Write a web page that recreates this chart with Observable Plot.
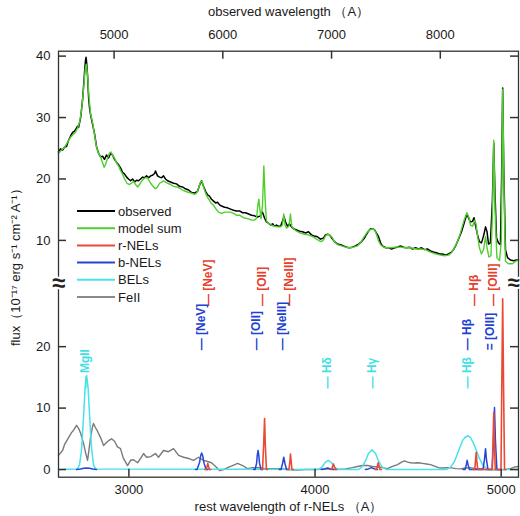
<!DOCTYPE html>
<html><head><meta charset="utf-8">
<script src="https://cdn.jsdelivr.net/npm/d3@7"></script>
<script src="https://cdn.jsdelivr.net/npm/@observablehq/plot@0.6"></script>
<style>
html,body{margin:0;padding:0;background:#fff;}
</style></head><body><div id="chart"></div>
<script>
// ---------- data (rest wavelength in Å, flux in 1e-17 erg/s/cm2/Å) ----------
const obsTicks = [5000, 6000, 7000, 8000];          // observed-frame tick labels
const restTicks = [3000, 4000, 5000];               // rest-frame tick labels
const lowerTicks = [0, 10, 20];                     // lower panel flux ticks
const upperTicks = [10, 20, 30, 40];                // upper panel flux ticks

// observed spectrum (upper panel)
const obsWave = [2622,2633,2644,2655,2665,2676,2687,2698,2708,2719,2724,2730,2741,2751,2757,2762,2767,2770,2773,2778,2784,2789,2794,2805,2816,2826,2837,2848,2859,2869,2880,2891,2902,2912,2923,2934,2945,2955,2966,2977,2988,2998,3009,3020,3031,3041,3052,3063,3074,3084,3095,3106,3117,3127,3138,3143,3154,3165,3176,3186,3197,3208,3224,3240,3256,3272,3288,3304,3321,3337,3353,3369,3380,3390,3401,3412,3423,3433,3444,3455,3466,3476,3487,3498,3514,3530,3546,3562,3578,3594,3611,3627,3643,3659,3675,3691,3707,3718,3729,3739,3750,3761,3772,3782,3793,3804,3815,3825,3833,3842,3852,3863,3874,3884,3901,3917,3933,3949,3965,3981,3997,4013,4029,4046,4056,4067,4078,4089,4105,4121,4137,4153,4169,4185,4201,4217,4234,4250,4266,4277,4287,4298,4309,4320,4330,4341,4352,4362,4379,4395,4411,4427,4443,4459,4475,4491,4507,4524,4540,4556,4572,4588,4604,4620,4636,4652,4669,4685,4701,4717,4733,4744,4755,4765,4776,4787,4797,4808,4816,4824,4835,4846,4854,4862,4873,4883,4894,4905,4916,4924,4932,4942,4953,4960,4967,4975,4985,4996,5002,5008,5014,5023,5034,5050,5066,5082,5093];
const obsFlux = [24.4,24.9,24.7,25.2,25.3,26.3,27.0,27.6,27.8,28.3,28.6,28.4,30.0,32.8,35.2,37.4,39.3,39.8,39.0,36.9,33.1,31.5,30.5,28.9,27.3,25.3,24.2,23.6,23.7,23.2,23.9,23.4,24.2,23.9,23.2,22.7,22.3,21.8,21.1,20.8,20.3,20.0,19.7,20.0,19.5,19.8,19.7,20.0,20.3,20.2,20.5,20.2,20.5,20.6,20.9,21.3,20.5,20.3,20.2,20.5,20.0,19.7,19.5,19.3,19.2,18.8,18.7,18.4,18.2,17.8,17.7,18.0,19.0,19.7,18.8,18.0,17.4,17.2,16.7,16.4,16.1,16.2,15.8,15.6,15.4,15.3,15.1,14.9,14.8,14.8,14.5,14.5,14.3,14.1,14.0,13.8,14.0,14.6,13.6,13.0,12.8,12.5,12.7,12.3,12.5,12.3,12.3,13.1,13.9,13.0,12.3,12.7,12.2,11.9,11.7,11.5,11.4,11.2,11.4,10.9,10.7,10.6,10.2,10.4,10.9,11.0,10.9,10.4,9.8,9.4,9.3,9.1,8.9,8.8,8.9,9.1,9.4,9.8,10.4,11.0,11.5,11.9,11.9,11.7,11.2,10.6,9.6,9.1,8.8,8.8,8.6,8.8,8.9,9.1,8.9,8.8,8.9,8.6,8.8,8.6,8.8,8.5,8.6,8.3,8.1,8.0,7.8,7.8,7.6,7.8,8.1,8.5,9.1,9.8,10.6,11.4,12.4,13.5,14.3,13.7,13.0,13.1,13.7,12.4,10.9,9.8,9.6,10.7,12.2,11.4,9.4,9.6,16.6,25.8,17.4,10.4,9.6,9.3,19.8,34.8,21.4,8.5,7.2,6.8,6.7,6.8,6.8];

// model sum (upper panel)
const modelWave = [2622,2639,2655,2671,2687,2703,2714,2724,2735,2746,2757,2765,2771,2778,2786,2794,2805,2816,2826,2837,2848,2859,2867,2875,2886,2896,2904,2912,2923,2934,2945,2955,2966,2977,2990,3004,3014,3025,3036,3047,3057,3068,3079,3090,3100,3111,3122,3133,3143,3154,3165,3176,3186,3197,3208,3224,3240,3256,3272,3288,3304,3321,3337,3353,3364,3374,3385,3393,3401,3412,3423,3433,3444,3455,3466,3482,3498,3514,3530,3546,3562,3578,3594,3611,3627,3643,3659,3675,3686,3693,3698,3703,3710,3718,3725,3732,3739,3750,3766,3782,3799,3815,3825,3832,3839,3847,3860,3868,3875,3884,3901,3922,3944,3965,3987,4008,4024,4035,4046,4056,4067,4078,4089,4105,4121,4142,4164,4185,4207,4228,4244,4260,4277,4293,4309,4320,4330,4341,4352,4368,4389,4411,4432,4459,4486,4513,4540,4567,4593,4620,4647,4674,4695,4717,4733,4749,4765,4781,4792,4803,4816,4827,4835,4846,4857,4865,4873,4883,4894,4905,4916,4924,4934,4945,4953,4960,4967,4977,4991,5001,5008,5016,5023,5039,5061,5077,5093];
const modelFlux = [24.2,24.7,25.2,26.0,26.8,27.3,27.6,28.3,29.2,31.2,34.8,37.7,38.7,36.9,33.3,30.7,29.2,27.1,25.2,24.2,23.6,22.6,21.9,22.4,23.4,24.2,24.4,23.9,23.4,22.6,22.1,21.4,20.8,20.0,19.3,19.1,19.3,19.6,19.1,18.7,19.1,19.6,20.0,20.2,20.2,19.6,19.1,18.7,18.4,18.7,19.3,19.5,19.7,19.5,19.3,19.1,18.8,18.7,18.5,18.2,18.0,17.8,17.7,17.5,17.7,18.5,19.5,19.7,18.7,17.7,17.0,16.5,16.0,15.7,15.2,14.6,14.4,14.6,14.6,14.6,14.4,14.1,14.1,13.8,13.6,13.5,13.3,13.3,13.6,15.8,16.7,15.3,13.5,15.8,22.1,16.6,13.2,12.8,12.5,12.3,12.2,12.2,12.5,14.3,12.5,12.0,12.3,14.3,12.3,11.9,11.5,11.2,11.0,10.9,10.6,10.2,9.9,9.8,10.1,10.7,11.0,10.9,10.6,9.8,9.3,9.1,8.9,8.8,8.9,9.1,9.6,10.4,11.2,11.7,11.9,11.7,11.0,9.9,9.3,8.9,8.8,8.8,8.9,8.9,8.8,8.8,8.6,8.6,8.5,8.1,7.8,7.6,7.5,7.6,8.0,8.8,9.8,11.2,12.4,13.5,14.5,13.7,12.5,12.3,13.3,12.7,10.7,8.8,7.8,8.5,10.6,8.8,7.3,7.5,14.1,26.3,15.0,7.2,6.7,10.1,34.6,16.6,6.6,6.2,6.2,6.6,6.8];

// FeII template (lower panel)
const feWave = [2622,2644,2655,2676,2692,2703,2719,2730,2741,2757,2767,2778,2784,2794,2805,2810,2821,2832,2848,2864,2880,2891,2907,2923,2939,2955,2971,2993,3009,3025,3047,3063,3079,3095,3117,3143,3159,3186,3213,3240,3267,3294,3321,3347,3374,3401,3423,3444,3466,3487,3509,3530,3557,3584,3611,3637,3664,3697,3734,3772,3815,3858,3901,3949,4003,4056,4110,4164,4201,4228,4255,4282,4309,4336,4362,4389,4416,4443,4465,4481,4497,4513,4534,4556,4577,4599,4620,4642,4663,4685,4706,4728,4755,4781,4808,4835,4862,4889,4916,4942,4969,4996,5023,5050,5071,5093];
const feFlux = [2.3,3.1,4.1,5.2,6.0,6.4,7.2,6.7,5.9,4.2,2.8,1.5,2.8,5.2,7.0,7.5,6.8,6.2,5.2,3.9,4.4,4.7,5.0,4.6,3.7,3.4,1.8,0.65,1.5,1.6,1.1,1.8,2.6,2.0,2.1,2.6,2.0,3.1,2.9,3.4,2.3,2.0,1.8,1.5,2.0,1.5,1.3,1.1,0.5,-0.15,0,0.3,0.65,1.0,0.65,0.15,0.3,0.3,0.15,0.15,0.15,0,-0.1,0,0,0.1,0,0.1,0.3,0.5,0.65,0.65,0.5,0.4,0.3,0.15,0.5,0.8,1.2,1.4,1.2,1.1,1.05,1.1,1.0,0.9,0.8,0.55,0.3,0.25,0.3,0.3,0.15,0.1,0.25,0.3,0.15,0.15,0,0,-0.05,-0.05,0,0.15,0.4,0.5];

// broad emission lines (lower panel)
const belWave = [2622,2724,2735,2746,2757,2765,2773,2781,2789,2800,2810,2821,4019,4040,4056,4072,4089,4105,4126,4234,4255,4271,4287,4306,4325,4341,4357,4384,4706,4728,4749,4771,4792,4808,4822,4835,4851,4867,4883,4900,4916,4937,4953,5093];
const belFlux = [0,0.1,0.75,3.3,8.8,13.3,15.3,13.3,8.8,3.3,0.75,0.1,0,0.5,1.2,1.5,1.1,0.4,0,0,0.5,1.4,2.6,3.2,2.6,1.4,0.5,0,0,0.4,1.3,3.0,4.7,5.3,5.5,5.2,4.3,3.1,1.8,0.8,0.3,0.05,0,0];

// blueshifted narrow lines (null = gap between segments)
const bWave = [2719,2741,2757,2773,2789,2805,2826,null,3358,3366,3380,3386,3391,3397,3404,3415,3425,null,3670,3678,3686,3690,3694,3698,3702,3710,3718,null,3808,3817,3825,3832,3839,3847,3855,null,4035,4051,4067,4083,4099,null,4271,4287,4303,4320,4336,null,4795,4806,4813,4817,4822,4829,4902,4910,4916,4921,4929,4951,4959,4964,4969,4977,4990];
const bFlux = [0,0.1,0.2,0.25,0.2,0.1,0,null,0,0,1.2,2.3,2.7,2.2,1.0,0,0,null,0,0,1.0,2.4,3.1,2.3,1.0,0,0,null,0,0,0.9,2.0,0.9,0,0,null,0,0.1,0.25,0.1,0,null,0,0.1,0.3,0.1,0,null,0,0,0.8,1.5,0.8,0,0,1.6,3.4,1.6,0,0,4.8,10.1,4.8,0,0];

// rest-frame narrow lines
const rWave = [3408,3415,3420,3424,3428,3433,3440,null,3712,3718,3724,3729,3733,3739,3745,null,3852,3860,3865,3868,3872,3876,3884,null,4083,4089,4094,4099,4104,4110,4116,null,4320,4330,4335,4339,4344,4349,4357,null,4850,4858,4862,4866,4869,4874,4952,4956,4960,4964,4968,4999,5003,5008,5013,5018,5025];
const rFlux = [0,0,0.5,1.0,0.5,0,0,null,0,0,4.0,8.3,4.0,0,0,null,0,0,1.3,2.5,1.3,0,0,null,0,0,0.45,0.9,0.45,0,0,null,0,0,0.55,1.1,0.55,0,0,null,0,0,1.4,2.8,1.4,0,0,4.5,9.3,4.5,0,0,13,27.8,13,0,0];

// line identifications
const labelText = ["— MgII","— [NeV]","— [NeV]","— [OII]","— [OII]","— [NeIII]","— [NeIII]","— Hδ","— Hγ","— Hβ","— Hβ","— Hβ","— [OIII]","= [OIII]"];
const labelWave = [2767,3428,3389,3716,3686,3859,3824,4067,4307,4853,4818,4818,4957,4942];
const labelKind = ["BEL","rNEL","bNEL","rNEL","bNEL","rNEL","bNEL","BEL","BEL","rNEL","bNEL","BEL","rNEL","bNEL"];

const legendNames = ["observed","model sum","r-NELs","b-NELs","BELs","FeII"];

// ---------- layout / style ----------
const W = 520, H = 516;
const mL = 58, mR = 2, mT = 50.7, mB = 39.3;
const frameW = W - mL - mR, frameH = H - mT - mB;
const zFactor = 1.712;        // observed / rest
const breakOffset = 27.3;     // upper panel shift in the broken axis
const breakAt = 30.3;         // position of the axis break (lower units)
const xDomain = [2622, 5093];
const yDomain = [-1.25, 68.1];
const tickLen = 8;

const colObs = "#000000", colModel = "#4fcf2c", colR = "#ea4a35", colB = "#2546d8", colBel = "#47e2ea", colFe = "#7a7a7a";
const kindColor = {rNEL: "#e8402c", bNEL: "#2040d2", BEL: "#3fe0e6"};
const kindRow = {rNEL: 26.6, bNEL: 19.4, BEL: 13.2};
const legendColors = [colObs, colModel, colR, colB, colBel, "#8a8a8a"];
const font = "'Liberation Sans', Arial, Helvetica, sans-serif";

const tbl = (w, f) => w.map((d, i) => ({w: d, f: f[i]}));
const labels = labelText.map((t, i) => ({t, w: labelWave[i], k: labelKind[i]}));
const yTickPos = lowerTicks.concat(upperTicks.map(v => v + breakOffset));

const chart = Plot.plot({
  width: W, height: H,
  marginLeft: mL, marginRight: mR, marginTop: mT, marginBottom: mB,
  x: {domain: xDomain},
  y: {domain: yDomain},
  style: {fontFamily: font, fontSize: "13px", background: "#fff", color: "#1a1a1a"},
  marks: [
    Plot.line(tbl(feWave, feFlux), {x: "w", y: "f", stroke: colFe, strokeWidth: 1.4}),
    Plot.line(tbl(belWave, belFlux), {x: "w", y: "f", stroke: colBel, strokeWidth: 1.5}),
    Plot.line(tbl(bWave, bFlux), {x: "w", y: "f", stroke: colB, strokeWidth: 1.5}),
    Plot.line(tbl(rWave, rFlux), {x: "w", y: "f", stroke: colR, strokeWidth: 1.6}),
    Plot.line(tbl(obsWave, obsFlux), {x: "w", y: d => d.f + breakOffset, stroke: colObs, strokeWidth: 1.5}),
    Plot.line(tbl(modelWave, modelFlux), {x: "w", y: d => d.f + breakOffset, stroke: colModel, strokeWidth: 1.4}),
    Plot.text(labels, {x: "w", y: d => kindRow[d.k], text: "t", fill: d => kindColor[d.k],
      rotate: -90, textAnchor: "start", fontSize: 12, fontWeight: "bold"}),
    Plot.frame({stroke: "#333", strokeWidth: 1.3}),
    // inward ticks
    Plot.tickX(obsTicks.map(o => o / zFactor), {x: d => d, insetBottom: frameH - tickLen, stroke: "#333", strokeWidth: 1.5}),
    Plot.tickX(restTicks, {x: d => d, insetTop: frameH - tickLen, stroke: "#333", strokeWidth: 1.5}),
    Plot.tickY(yTickPos, {y: d => d, insetRight: frameW - tickLen, stroke: "#333", strokeWidth: 1.5}),
    Plot.tickY(yTickPos, {y: d => d, insetLeft: frameW - tickLen, stroke: "#333", strokeWidth: 1.5}),
    // axes (labels only)
    Plot.axisX(restTicks, {anchor: "bottom", tickSize: 0, tickPadding: 8, tickFormat: d => String(d),
      label: "rest wavelength of r-NELs （A）", labelAnchor: "center", labelOffset: 34, labelArrow: "none"}),
    Plot.axisX(obsTicks.map(o => o / zFactor), {anchor: "top", tickSize: 0, tickPadding: 12,
      tickFormat: d => String(Math.round(d * zFactor)),
      label: "observed wavelength （A）", labelAnchor: "center", labelOffset: 44, labelArrow: "none"}),
    Plot.axisY(yTickPos, {anchor: "left", tickSize: 0, tickPadding: 8,
      tickFormat: d => String(Math.round(d > breakAt ? d - breakOffset : d)),
      label: "flux（10⁻¹⁷ erg s⁻¹ cm⁻² A⁻¹）", labelAnchor: "center", labelOffset: 48, labelArrow: "none"}),
    // axis break marks
    Plot.text([xDomain[0]], {x: d => d, y: () => breakAt, text: () => "≈", fontSize: 24, fontWeight: "bold",
      fill: "#222", stroke: "#fff", strokeWidth: 4, paintOrder: "stroke"}),
    Plot.text([xDomain[1]], {x: d => d, y: () => breakAt, text: () => "≈", fontSize: 22, fontWeight: "bold",
      textAnchor: "end", dx: 1, fill: "#222", stroke: "#fff", strokeWidth: 4, paintOrder: "stroke"})
  ]
});

document.getElementById("chart").appendChild(chart);

// legend inside the upper panel
const lg = d3.select(chart).append("g").attr("font-family", font).attr("font-size", 13).attr("text-anchor", "start");
legendNames.forEach((n, i) => {
  const y = 211 + i * 17.2;
  lg.append("line").attr("x1", 77).attr("x2", 115).attr("y1", y).attr("y2", y)
    .attr("stroke", legendColors[i]).attr("stroke-width", 2);
  lg.append("text").attr("x", 118).attr("y", y).attr("dy", "0.35em").attr("fill", "#1a1a1a").text(n);
});
</script>
</body></html>
